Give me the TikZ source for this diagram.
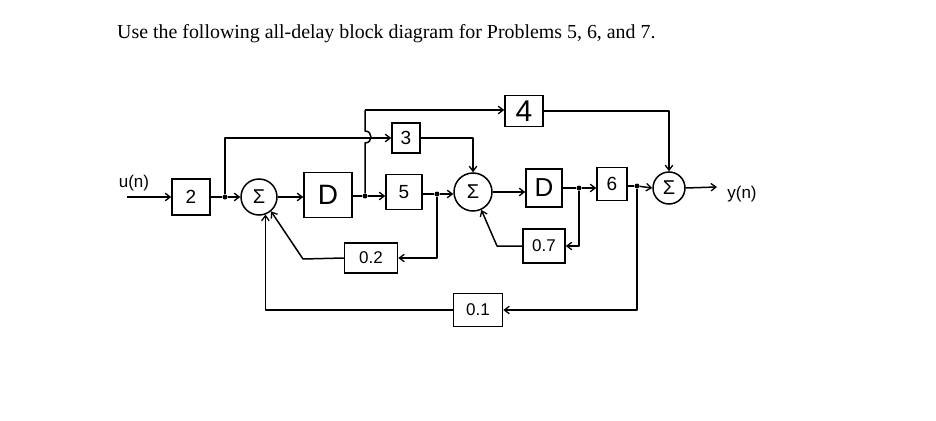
\documentclass[tikz,border=0pt]{standalone}
\usepackage{fontspec}
\setmainfont{Liberation Serif}
\newfontfamily\hand{Liberation Sans}
\usetikzlibrary{arrows.meta}
\begin{document}
\begin{tikzpicture}[x=1pt,y=-1pt,
  wire/.style={line width=1.5pt, line join=round},
  arr/.style={wire, -{Straight Barb[length=5pt,width=7.5pt,line width=1.3pt]}},
  blk/.style={draw, line width=1.5pt, inner sep=0pt, font=\hand\fontsize{19}{19}\selectfont},
  sumnode/.style={draw, circle, line width=1.5pt, inner sep=0pt, font=\hand\fontsize{20}{20}\selectfont},
  dot/.style={circle, fill, inner sep=0pt, minimum size=5pt},
  lbl/.style={font=\hand\fontsize{17}{17}\selectfont}]
\useasboundingbox (0,0) rectangle (936,420);
\fill[white] (0,0) rectangle (936,420);
\node[anchor=base west, font=\fontsize{19.9}{22}\selectfont, inner sep=0pt] (title) at (117,38) {Use the following all-delay block diagram for Problems 5, 6, and 7.};
% blocks
\node[blk, minimum width=38, minimum height=36] (b2) at (191,197) {2};
\node[sumnode, minimum size=36] (s1) at (259,197) {Σ};
\node[blk, minimum width=48, minimum height=45, font=\hand\fontsize{28}{28}\selectfont] (d1) at (328,195) {D};
\node[blk, minimum width=36, minimum height=35] (b5) at (404,192) {5};
\node[blk, minimum width=28, minimum height=30] (b3) at (406,138) {3};
\node[blk, minimum width=53, minimum height=30, font=\hand\fontsize{17}{17}\selectfont] (b02) at (371,258) {0.2};
\node[sumnode, minimum size=38] (s2) at (473,192) {Σ};
\node[blk, minimum width=38, minimum height=31, font=\hand\fontsize{30}{30}\selectfont] (b4) at (524,111) {4};
\node[blk, minimum width=36, minimum height=38, font=\hand\fontsize{26}{26}\selectfont] (d2) at (544,188) {D};
\node[blk, minimum width=30, minimum height=33] (b6) at (612,184) {6};
\node[sumnode, minimum size=32] (s3) at (669,188) {Σ};
\node[blk, minimum width=42, minimum height=34, font=\hand\fontsize{17}{17}\selectfont] (b07) at (544,246) {0.7};
\node[blk, minimum width=49, minimum height=33, font=\hand\fontsize{17}{17}\selectfont] (b01) at (478,310) {0.1};
% junctions
\node[dot] (j1) at (225,197) {};
\node[dot] (j2) at (365,196) {};
\node[dot] (j3) at (437,194) {};
\node[dot] (j4) at (579,188) {};
\node[dot] (j5) at (637,186) {};
% free ends
\coordinate (in) at (127,197);
\coordinate (out) at (717,187);
\coordinate (hopa) at (365,143);
\coordinate (hopb) at (365,131);
\coordinate (top) at (365,110);
\coordinate (k1) at (303,259);
\coordinate (k2) at (497,246);
% labels
\node[lbl] (un) at (134,183) {u(n)};
\node[lbl] (yn) at (742,194) {y(n)};
% main path
\draw[arr] (in) -- (b2.west);
\draw[wire] (b2.east) -- (j1);
\draw[arr] (j1) -- (s1.west);
\draw[arr] (s1.east) -- (s1.east -| d1.west);
\draw[wire] (d1.east |- j2) -- (j2);
\draw[arr] (j2) -- (j2 -| b5.west);
\draw[wire] (b5.east |- j3) -- (j3);
\draw[arr] (j3) -- (j3 -| s2.west);
\draw[arr] (s2.east) -- (s2.east -| d2.west);
\draw[wire] (d2.east |- j4) -- (j4);
\draw[arr] (j4) -- (j4 -| b6.west);
\draw[wire] (b6.east |- j5) -- (j5);
\draw[arr] (j5) -- (s3.west);
\draw[arr] (s3.east) -- (out);
% feed-forward
\draw[arr] (j1) |- (b3.west);
\draw[wire] (j2) -- (hopa) .. controls (373,143) and (373,131) .. (hopb) -- (top);
\draw[arr] (top) -- (top -| b4.west);
\draw[arr] (b4.east) -| (s3.north);
\draw[arr] (b3.east) -| (s2.north);
% feedback
\draw[arr] (j3) |- (b02.east);
\draw[arr] (b02.west) -- (k1) -- (s1.-50);
\draw[arr] (j4) |- (b07.east);
\draw[arr] (b07.west) -- (k2) -- (s2.-65);
\draw[arr] (j5) |- (b01.east);
\draw[arr] (b01.west) -| (s1.-70);
\end{tikzpicture}
\end{document}
